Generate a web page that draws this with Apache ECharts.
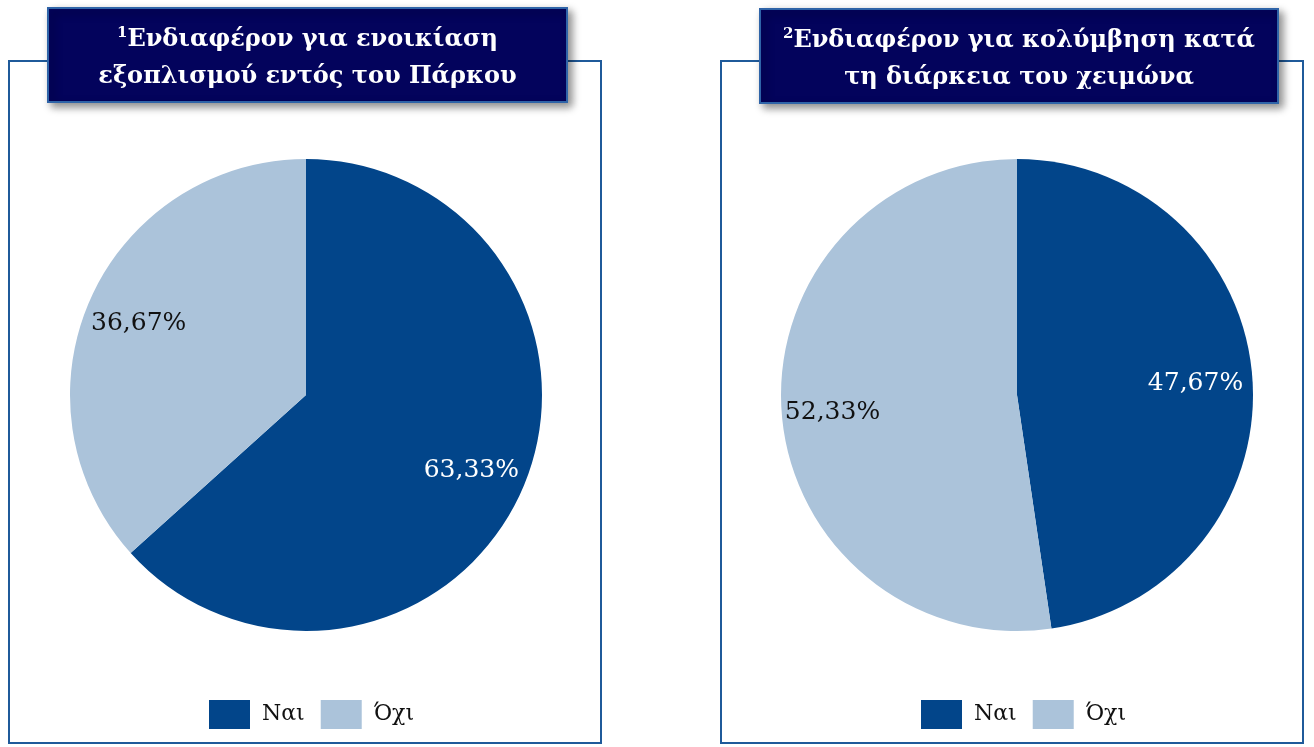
<!DOCTYPE html>
<html>
<head>
<meta charset="utf-8">
<script src="https://cdn.jsdelivr.net/npm/echarts@6/dist/echarts.min.js"></script>
<style>
  html, body { margin: 0; padding: 0; background: #fff; }
  #main { width: 1314px; height: 747px; }
</style>
</head>
<body>
<div id="main"></div>
<script>
// data
var categories = ["Ναι", "Όχι"];
var rentValues = [63.33, 36.67];
var swimValues = [47.67, 52.33];
var titles = [
  ["Ενδιαφέρον για ενοικίαση", "εξοπλισμού εντός του Πάρκου"],
  ["Ενδιαφέρον για κολύμβηση κατά", "τη διάρκεια του χειμώνα"]
];
var colors = ["#02458A", "#ABC3DA"];

var FONT = "DejaVu Serif";
var chart = echarts.init(document.getElementById("main"));

function fmt(p) {
  return p.value.toFixed(2).replace(".", ",") + "%";
}

function pieSeries(values, cx, labelOffsets) {
  var base = {
    type: "pie",
    center: [cx, 395],
    radius: [0, 236],
    startAngle: 90,
    clockwise: true,
    silent: true,
    animation: false,
    label: { show: false },
    labelLine: { show: false },
    itemStyle: { borderWidth: 0 },
    data: values.map(function (v, i) {
      return { name: categories[i], value: v, itemStyle: { color: colors[i] } };
    })
  };
  // transparent ring only for label placement (~0.75 r)
  var labels = {
    type: "pie",
    center: [cx, 395],
    radius: [120, 236],
    startAngle: 90,
    clockwise: true,
    silent: true,
    animation: false,
    labelLine: { show: false },
    label: {
      show: true,
      position: "inside",
      formatter: fmt,
      fontFamily: FONT,
      fontSize: 25
    },
    data: values.map(function (v, i) {
      return {
        name: categories[i],
        value: v,
        itemStyle: { color: "rgba(0,0,0,0)" },
        label: {
          color: i === 0 ? "#ffffff" : "#111111",
          offset: labelOffsets[i]
        }
      };
    })
  };
  return [base, labels];
}

function titleBox(x, y, w, h, lines, num) {
  return [
    {
      type: "rect",
      shape: { x: x, y: y, width: w, height: h },
      style: {
        fill: "#03035C",
        stroke: "#2F64A8",
        lineWidth: 2,
        shadowBlur: 8,
        shadowOffsetX: 4,
        shadowOffsetY: 4,
        shadowColor: "rgba(0,0,0,0.45)"
      },
      z: 10
    },
    {
      type: "text",
      x: x + w / 2,
      y: y + h / 2 + 3,
      z: 11,
      style: {
        text: "{sup|" + num + "}{t|" + lines[0] + "}\n{t|" + lines[1] + "}",
        align: "center",
        verticalAlign: "middle",
        fill: "#ffffff",
        rich: {
          t: { fontFamily: FONT, fontSize: 24, fontWeight: "bold", fill: "#fff", lineHeight: 37 },
          sup: { fontFamily: FONT, fontSize: 15, fontWeight: "bold", fill: "#fff", padding: [0, 0, 12, 0], lineHeight: 37 }
        }
      }
    }
  ];
}

function panel(x, y, w, h) {
  return {
    type: "rect",
    shape: { x: x, y: y, width: w, height: h },
    style: { fill: "none", stroke: "#1F5A9A", lineWidth: 2 },
    z: 1
  };
}

function legendAt(left) {
  return {
    left: left,
    top: 700,
    padding: 0,
    itemWidth: 41,
    itemHeight: 29,
    itemGap: 16,
    icon: "rect",
    selectedMode: false,
    textStyle: { fontFamily: FONT, fontSize: 22, color: "#111", padding: [4, 0, 0, 7] },
    data: categories
  };
}

var option = {
  animation: false,
  legend: [legendAt(209), legendAt(921)],
  graphic: [
    panel(9, 61, 592, 682),
    panel(721, 61, 582, 682)
  ]
    .concat(titleBox(48, 8, 519, 94, titles[0], "1"))
    .concat(titleBox(760, 9, 518, 94, titles[1], "2")),
  series: pieSeries(rentValues, 306, [[0, 2], [-2, 2]])
    .concat(pieSeries(swimValues, 1017, [[-2, 2], [-4, 4]]))
};

chart.setOption(option);
</script>
</body>
</html>
